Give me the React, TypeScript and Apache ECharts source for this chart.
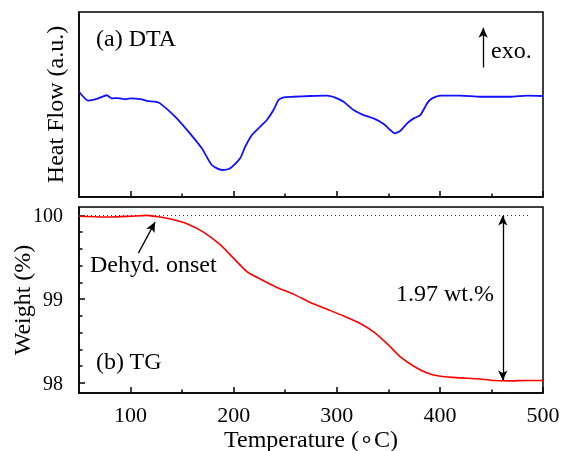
import React, { useEffect, useRef } from "react";
import * as echarts from "echarts";

// DTA (arbitrary units) — temperature (°C) and heat flow
const dtaT = [50, 59, 68.7, 76.9, 81.7, 88, 94.7, 99.5, 110.9, 115.7, 123.8, 128.6, 143.2, 156.1, 169.1, 178.8, 188.5, 196.6, 206.3, 211.2, 217.7, 225.7, 232.2, 238.6, 243.5, 248.4, 258, 274.3, 290.5, 298.5, 306.6, 316.3, 326, 335.7, 345.5, 351.9, 356.1, 361.7, 368.2, 374.6, 381, 387.6, 392.4, 400.5, 419.9, 439.3, 468.4, 484.5, 500];
const dtaV = [56.9, 52.1, 53.3, 55.0, 53.3, 53.5, 52.8, 53.3, 52.8, 51.9, 51.5, 50.6, 43.4, 35.3, 26.3, 17.3, 14.6, 15.5, 20.9, 27.2, 33.5, 38.0, 41.6, 47.0, 52.4, 53.9, 54.2, 54.6, 54.8, 53.7, 51.5, 47.0, 44.3, 42.5, 39.5, 36.2, 34.4, 35.8, 39.8, 42.5, 44.3, 50.6, 53.3, 54.8, 54.8, 54.2, 54.2, 54.8, 54.6];

// TG — temperature (°C) and weight (%)
const tgT = [50, 80, 100, 115.7, 128.6, 141, 154.6, 170.7, 186.9, 199.8, 212.8, 225.7, 241.9, 258, 274.3, 290.5, 306.6, 322.8, 335.7, 348.7, 361.7, 374.6, 387.6, 400.5, 419.9, 436, 452.2, 468.4, 485, 500];
const tgV = [99.99, 99.98, 99.99, 100.0, 99.98, 99.95, 99.9, 99.8, 99.65, 99.49, 99.33, 99.24, 99.14, 99.06, 98.96, 98.88, 98.8, 98.71, 98.61, 98.47, 98.31, 98.2, 98.12, 98.08, 98.06, 98.05, 98.03, 98.025, 98.03, 98.03];

const xMajor = [100, 200, 300, 400, 500];
const xMinor = [150, 250, 350, 450];
const yMajor = [98, 99, 100];
const yMinor = [98.2, 98.4, 98.6, 98.8, 99.2, 99.4, 99.6, 99.8];

// annotation anchors (data coordinates)
const exoArrow = [[442, 70], [442, 91.5]];
const onsetArrow = [[107.6, 99.55], [123.8, 99.92]];
const lossArrow = [[461, 100], [461, 98.03]];
const refLine = [[50, 100], [486, 100]];

const FONT = "Liberation Serif";

export default function App() {
  const ref = useRef<HTMLDivElement>(null);
  useEffect(() => {
    const chart = echarts.init(ref.current!, null, { renderer: "svg" });
    const black = "#000";
    const axLine = { show: true, lineStyle: { color: black, width: 1.5 } };
    const xBase = (grid: number) => ({
      type: "value",
      gridIndex: grid,
      position: "bottom",
      min: 50,
      max: 500,
      splitLine: { show: false },
    });
    const option: any = {
      animation: false,
      textStyle: { fontFamily: FONT, color: black },
      grid: [
        { left: 79, right: 21, top: 12, height: 185, show: true, borderColor: black, borderWidth: 1.5, containLabel: false, outerBoundsMode: "none" },
        { left: 79, right: 21, top: 207, height: 186, show: true, borderColor: black, borderWidth: 1.5, containLabel: false, outerBoundsMode: "none" },
      ],
      xAxis: [
        { ...xBase(0), axisLine: axLine, axisTick: { show: true, inside: true, length: 6, customValues: xMajor, lineStyle: { color: black, width: 1.5 } }, axisLabel: { show: false } },
        { ...xBase(0), axisLine: { show: false }, axisTick: { show: true, inside: true, length: 3.5, customValues: xMinor, lineStyle: { color: black, width: 1.5 } }, axisLabel: { show: false } },
        {
          ...xBase(1), axisLine: axLine,
          axisTick: { show: true, inside: true, length: 6, customValues: xMajor, lineStyle: { color: black, width: 1.5 } },
          axisLabel: { show: true, customValues: xMajor, fontSize: 22, color: black, margin: 10, fontFamily: FONT },
          name: "Temperature (\u2218C)", nameLocation: "middle", nameGap: 34, nameMoveOverlap: false,
          nameTextStyle: { fontSize: 24, color: black, fontFamily: FONT },
        },
        { ...xBase(1), axisLine: { show: false }, axisTick: { show: true, inside: true, length: 3.5, customValues: xMinor, lineStyle: { color: black, width: 1.5 } }, axisLabel: { show: false } },
      ],
      yAxis: [
        {
          type: "value", gridIndex: 0, position: "left", min: 0, max: 100, splitLine: { show: false },
          axisLine: axLine, axisTick: { show: false }, axisLabel: { show: false },
          name: "Heat Flow (a.u.)", nameLocation: "middle", nameGap: 12, nameMoveOverlap: false,
          nameTextStyle: { fontSize: 24, color: black, fontFamily: FONT },
        },
        {
          type: "value", gridIndex: 1, position: "left", min: 97.88, max: 100.1, splitLine: { show: false },
          axisLine: axLine,
          axisTick: { show: true, inside: true, length: 6, customValues: yMajor, lineStyle: { color: black, width: 1.5 } },
          axisLabel: { show: true, customValues: yMajor, fontSize: 20, color: black, margin: 16, fontFamily: FONT },
          name: "Weight (%)", nameLocation: "middle", nameGap: 45, nameMoveOverlap: false,
          nameTextStyle: { fontSize: 24, color: black, fontFamily: FONT },
        },
        {
          type: "value", gridIndex: 1, position: "left", min: 97.88, max: 100.1, splitLine: { show: false },
          axisLine: { show: false },
          axisTick: { show: true, inside: true, length: 3.5, customValues: yMinor, lineStyle: { color: black, width: 1.5 } },
          axisLabel: { show: false },
        },
      ],
      series: [
        {
          type: "line", xAxisIndex: 0, yAxisIndex: 0,
          data: dtaT.map((t, i) => [t, dtaV[i]]),
          showSymbol: false, smooth: 0.2,
          lineStyle: { color: "#1010ff", width: 1.8 },
          markLine: {
            silent: true, animation: false,
            label: { show: false },
            lineStyle: { color: black, width: 1.3, type: "solid" },
            symbol: ["none", "arrow"], symbolSize: [7, 10],
            data: [[{ coord: exoArrow[0], symbol: "none" }, { coord: exoArrow[1], symbol: "arrow" }]],
          },
        },
        {
          type: "line", xAxisIndex: 2, yAxisIndex: 1,
          data: tgT.map((t, i) => [t, tgV[i]]),
          showSymbol: false, smooth: 0.2, z: 3,
          lineStyle: { color: "#ff0000", width: 1.6 },
          markLine: {
            silent: true, animation: false, z: 2,
            label: { show: false },
            lineStyle: { color: black, width: 1.3, type: "solid" },
            symbol: ["none", "arrow"], symbolSize: [7, 10],
            data: [
              [{ coord: refLine[0], symbol: "none", lineStyle: { type: [1, 3], color: "#333", width: 1 } }, { coord: refLine[1], symbol: "none" }],
              [{ coord: onsetArrow[0], symbol: "none" }, { coord: onsetArrow[1], symbol: "arrow" }],
              [{ coord: lossArrow[0], symbol: "arrow" }, { coord: lossArrow[1], symbol: "arrow" }],
            ],
          },
        },
      ],
      graphic: [
        { type: "text", left: 96, top: 26, style: { text: "(a) DTA", fontSize: 24, fontFamily: FONT, fill: black } },
        { type: "text", left: 491, top: 38, style: { text: "exo.", fontSize: 24, fontFamily: FONT, fill: black } },
        { type: "text", left: 90, top: 252, style: { text: "Dehyd. onset", fontSize: 24, fontFamily: FONT, fill: black } },
        { type: "text", left: 396, top: 281, style: { text: "1.97 wt.%", fontSize: 24, fontFamily: FONT, fill: black } },
        { type: "text", left: 96, top: 349, style: { text: "(b) TG", fontSize: 24, fontFamily: FONT, fill: black } },
      ],
    };
    chart.setOption(option);
    return () => chart.dispose();
  }, []);
  return <div ref={ref} style={{ position: "fixed", left: 0, top: 0, width: 564, height: 451 }} />;
}
